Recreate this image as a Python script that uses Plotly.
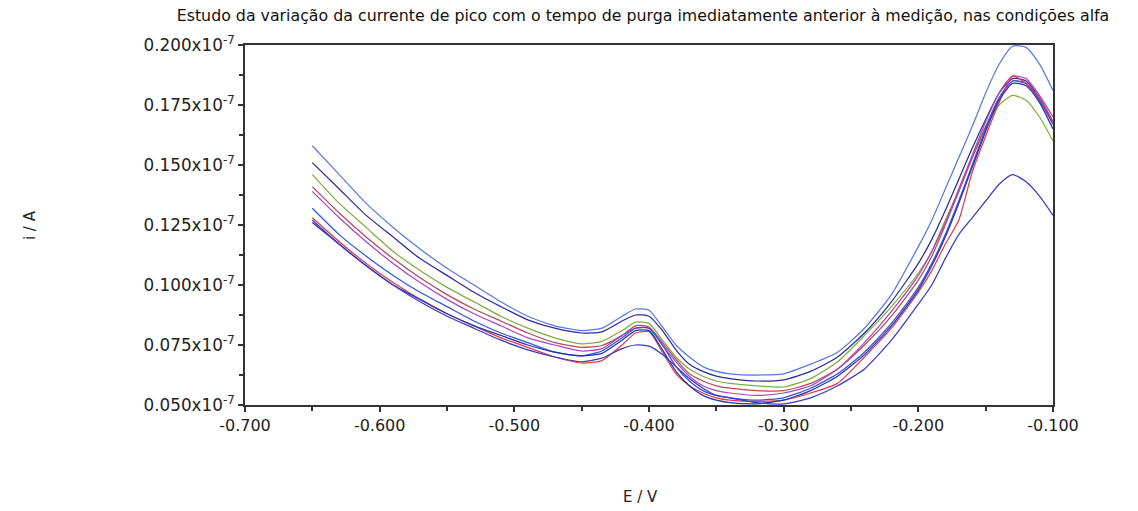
import plotly.graph_objects as go

# Potential grid (V)
E = [-0.65, -0.63, -0.61, -0.59, -0.57, -0.55, -0.53, -0.51, -0.49, -0.47, -0.45,
     -0.435, -0.42, -0.41, -0.40, -0.39, -0.38, -0.37, -0.36, -0.35, -0.34, -0.32,
     -0.30, -0.28, -0.26, -0.24, -0.22, -0.20, -0.19, -0.18, -0.17, -0.16, -0.15,
     -0.14, -0.13, -0.12, -0.11, -0.10]

# Currents in units of 1e-7 A
i_lightblue = [0.158, 0.146, 0.134, 0.124, 0.115, 0.107, 0.100, 0.093, 0.087, 0.083, 0.081,
               0.082, 0.087, 0.090, 0.0895, 0.0825, 0.075, 0.070, 0.066, 0.064, 0.063, 0.0625,
               0.063, 0.067, 0.072, 0.082, 0.096, 0.116, 0.127, 0.140, 0.153, 0.166, 0.180,
               0.192, 0.1995, 0.199, 0.192, 0.181]
i_navy = [0.151, 0.140, 0.129, 0.120, 0.111, 0.104, 0.097, 0.091, 0.0855, 0.082, 0.080,
          0.0805, 0.085, 0.0875, 0.087, 0.081, 0.073, 0.067, 0.064, 0.062, 0.061, 0.060,
          0.0605, 0.064, 0.070, 0.080, 0.093, 0.109, 0.119, 0.131, 0.144, 0.157, 0.169,
          0.180, 0.186, 0.185, 0.178, 0.168]
i_green = [0.146, 0.134, 0.124, 0.114, 0.106, 0.099, 0.093, 0.087, 0.082, 0.078, 0.0755,
           0.0765, 0.081, 0.0845, 0.084, 0.077, 0.070, 0.065, 0.062, 0.060, 0.059, 0.058,
           0.0575, 0.061, 0.068, 0.079, 0.091, 0.105, 0.114, 0.127, 0.139, 0.153, 0.166,
           0.175, 0.179, 0.177, 0.170, 0.160]
i_brown = [0.141, 0.130, 0.120, 0.111, 0.103, 0.096, 0.090, 0.085, 0.080, 0.076, 0.074,
           0.0748, 0.079, 0.083, 0.0825, 0.076, 0.069, 0.063, 0.060, 0.058, 0.057, 0.056,
           0.056, 0.059, 0.065, 0.075, 0.087, 0.102, 0.112, 0.125, 0.139, 0.153, 0.166,
           0.178, 0.185, 0.184, 0.177, 0.167]
i_purple = [0.139, 0.128, 0.118, 0.109, 0.101, 0.094, 0.088, 0.083, 0.078, 0.075, 0.0725,
            0.0735, 0.079, 0.082, 0.082, 0.075, 0.068, 0.062, 0.058, 0.056, 0.055, 0.054,
            0.055, 0.058, 0.065, 0.076, 0.089, 0.104, 0.114, 0.126, 0.140, 0.154, 0.168,
            0.180, 0.187, 0.186, 0.179, 0.170]
i_blue = [0.132, 0.121, 0.112, 0.104, 0.097, 0.091, 0.085, 0.080, 0.076, 0.072, 0.0705,
          0.0725, 0.078, 0.082, 0.082, 0.075, 0.066, 0.060, 0.056, 0.054, 0.053, 0.052,
          0.053, 0.057, 0.063, 0.072, 0.084, 0.099, 0.109, 0.121, 0.135, 0.150, 0.165,
          0.178, 0.185, 0.184, 0.177, 0.167]
i_red = [0.128, 0.118, 0.109, 0.101, 0.094, 0.088, 0.083, 0.078, 0.074, 0.070, 0.0675,
         0.0685, 0.075, 0.080, 0.0805, 0.072, 0.063, 0.058, 0.055, 0.053, 0.052, 0.0515,
         0.052, 0.055, 0.059, 0.070, 0.082, 0.097, 0.106, 0.117, 0.127, 0.147, 0.162,
         0.176, 0.187, 0.184, 0.178, 0.168]
i_darkblue = [0.126, 0.117, 0.108, 0.100, 0.094, 0.088, 0.083, 0.079, 0.075, 0.072, 0.0705,
              0.0715, 0.077, 0.081, 0.081, 0.073, 0.064, 0.058, 0.054, 0.052, 0.051, 0.0505,
              0.052, 0.056, 0.062, 0.071, 0.083, 0.098, 0.108, 0.120, 0.134, 0.149, 0.164,
              0.177, 0.184, 0.183, 0.176, 0.165]
i_lowblue = [0.127, 0.117, 0.108, 0.100, 0.093, 0.087, 0.082, 0.077, 0.073, 0.070, 0.068,
             0.0695, 0.0735, 0.075, 0.0745, 0.071, 0.066, 0.061, 0.057, 0.054, 0.053, 0.051,
             0.0505, 0.053, 0.058, 0.065, 0.077, 0.092, 0.100, 0.111, 0.121, 0.128, 0.135,
             0.142, 0.146, 0.143, 0.137, 0.129]

series = [
    (i_lightblue, "#5878e4"),
    (i_navy, "#2b2b9e"),
    (i_green, "#7fae3c"),
    (i_brown, "#b8485a"),
    (i_purple, "#a845c8"),
    (i_blue, "#2f55e6"),
    (i_red, "#e8374a"),
    (i_darkblue, "#2434b4"),
    (i_lowblue, "#3a3ac4"),
]

y_ticks = [0.050, 0.075, 0.100, 0.125, 0.150, 0.175, 0.200]
y_ticktext = ["%.3fx10<sup>-7</sup>" % v for v in y_ticks]
x_ticks = [-0.7, -0.6, -0.5, -0.4, -0.3, -0.2, -0.1]
x_ticktext = ["-0.700", "-0.600", "-0.500", "-0.400", "-0.300", "-0.200", "-0.100"]

title_text = ("Estudo da variação da currente de pico com o tempo de purga imediatamente "
              "anterior à medição, nas condições alfa")

fig = go.Figure()
for vals, col in series:
    fig.add_trace(go.Scatter(x=E, y=vals, mode="lines",
                             line=dict(color=col, width=1.25, shape="spline", smoothing=0.6),
                             showlegend=False, hoverinfo="skip"))

font_family = "DejaVu Sans, Liberation Sans, Arial, sans-serif"
axis_col = "#333333"

# the page adds an 8px body margin, so the figure is 8px smaller and shifted
fig.update_layout(
    width=1130, height=503,
    margin=dict(l=237, r=85, t=37, b=106),
    paper_bgcolor="white", plot_bgcolor="white",
    font=dict(family=font_family, size=15, color="#222222"),
    title=dict(text=title_text, xref="paper", x=0.4926, xanchor="center",
               yref="container", y=0.986, yanchor="middle",
               font=dict(size=15.8, color="#111111")),
    xaxis=dict(range=[-0.7, -0.1], tickvals=x_ticks, ticktext=x_ticktext,
               showgrid=False, zeroline=False, showline=True, linecolor=axis_col,
               linewidth=2, mirror=True, ticks="outside", ticklen=5, tickwidth=1.5,
               tickcolor=axis_col,
               minor=dict(dtick=0.05, tick0=-0.7, ticks="outside", ticklen=4,
                          tickwidth=1.5, tickcolor=axis_col, showgrid=False),
               tickfont=dict(size=16)),
    yaxis=dict(range=[0.05, 0.2], tickvals=y_ticks, ticktext=y_ticktext,
               showgrid=False, zeroline=False, showline=True, linecolor=axis_col,
               linewidth=2, mirror=True, ticks="outside", ticklen=5, tickwidth=1.5,
               tickcolor=axis_col,
               minor=dict(dtick=0.0125, tick0=0.05, ticks="outside", ticklen=4,
                          tickwidth=1.5, tickcolor=axis_col, showgrid=False),
               tickfont=dict(size=16.8)),
    annotations=[
        dict(text="E / V", xref="paper", yref="paper", x=0.489, y=-0.256,
             xanchor="center", yanchor="middle", showarrow=False,
             font=dict(size=15)),
        dict(text="i / A", xref="paper", yref="paper", x=-0.266, y=0.5,
             xanchor="center", yanchor="middle", showarrow=False, textangle=-90,
             font=dict(size=15)),
    ],
)

fig.write_html("out.html")
